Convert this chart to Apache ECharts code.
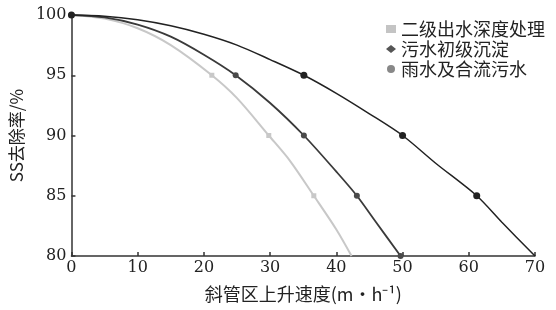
<!DOCTYPE html>
<html><head><meta charset="utf-8">
<script src="https://cdn.jsdelivr.net/npm/echarts@6/dist/echarts.min.js"></script>
<style>html,body{margin:0;padding:0;background:#fff}#c{width:556px;height:310px}</style>
</head><body><div id="c"></div>
<script>
var seriesNames = ['二级出水深度处理', '污水初级沉淀', '雨水及合流污水'];
// [speed, removal, showMarker]
var deepTreat = [[0,100,1],[5,99.7,0],[10,98.9,0],[15,97.5,0],[21.2,95,1],[25,93.1,0],[29.8,90,1],[33,87.9,0],[36.6,85,1],[40,82.2,0],[42.3,80,0]];
var primarySed = [[0,100,1],[5,99.8,0],[10,99.2,0],[15,98.2,0],[20,96.7,0],[24.8,95,1],[30,92.7,0],[35.1,90,1],[40,87.0,0],[43.1,85,1],[46,82.8,0],[49.7,80,1]];
var stormComb = [[0,100,1],[5,99.9,0],[10,99.6,0],[15,99.1,0],[20,98.4,0],[25,97.5,0],[30,96.3,0],[35.1,95,1],[40,93.5,0],[45,91.8,0],[50,90,1],[55,87.7,0],[61.2,85,1],[65,82.8,0],[70,80,0]];
var xTicks = [0,10,20,30,40,50,60,70];
var yTicks = [80,85,90,95,100];

function toData(arr){
  return arr.map(function(p){
    var d = {value:[p[0],p[1]]};
    if(!p[2]) d.symbol = 'none';
    return d;
  });
}
var serif = '"DejaVu Serif", serif';
var cjk = 'Noto Sans CJK SC';
var chart = echarts.init(document.getElementById('c'));
chart.setOption({
  animation:false,
  backgroundColor:'#fff',
  grid:{left:67,right:21,top:15,bottom:54},
  legend:{
    orient:'vertical', left:381, top:15, itemGap:2, itemWidth:10, itemHeight:8,
    textStyle:{fontFamily:cjk, fontSize:18, color:'#222'},
    data:[
      {name:seriesNames[0], icon:'rect', itemStyle:{color:'#c4c4c4'}},
      {name:seriesNames[1], icon:'diamond', itemStyle:{color:'#555'}},
      {name:seriesNames[2], icon:'circle', itemStyle:{color:'#888'}}
    ]
  },
  xAxis:{
    type:'value', min:0, max:70, interval:10,
    name:'斜管区上升速度(m·h⁻¹)', nameLocation:'middle', nameGap:29,
    nameTextStyle:{fontFamily:cjk, fontSize:18, color:'#222'},
    axisLine:{lineStyle:{color:'#333', width:1.5}},
    axisTick:{inside:true, length:4, lineStyle:{color:'#333', width:1.5}},
    axisLabel:{fontFamily:serif, fontSize:16, color:'#222', margin:4},
    splitLine:{show:false}
  },
  yAxis:{
    type:'value', min:80, max:100, interval:5,
    name:'SS去除率/%', nameLocation:'middle', nameGap:46, nameRotate:90,
    nameTextStyle:{fontFamily:cjk, fontSize:17, color:'#222'},
    axisLine:{show:true, lineStyle:{color:'#333', width:1.5}},
    axisTick:{show:true, inside:true, length:4, lineStyle:{color:'#333', width:1.5}},
    axisLabel:{fontFamily:serif, fontSize:16, color:'#222', margin:5},
    splitLine:{show:false}
  },
  series:[
    {name:seriesNames[0], type:'line', smooth:0.3, data:toData(deepTreat), symbol:'rect', symbolSize:5,
     lineStyle:{color:'#c8c8c8', width:2}, itemStyle:{color:'#c8c8c8'}, z:2},
    {name:seriesNames[1], type:'line', smooth:0.3, data:toData(primarySed), symbol:'circle', symbolSize:6,
     lineStyle:{color:'#3a3a3a', width:1.8}, itemStyle:{color:'#4a4a4a'}, z:3},
    {name:seriesNames[2], type:'line', smooth:0.3, data:toData(stormComb), symbol:'circle', symbolSize:7,
     lineStyle:{color:'#222', width:1.5}, itemStyle:{color:'#222'}, z:4}
  ]
});
</script></body></html>
